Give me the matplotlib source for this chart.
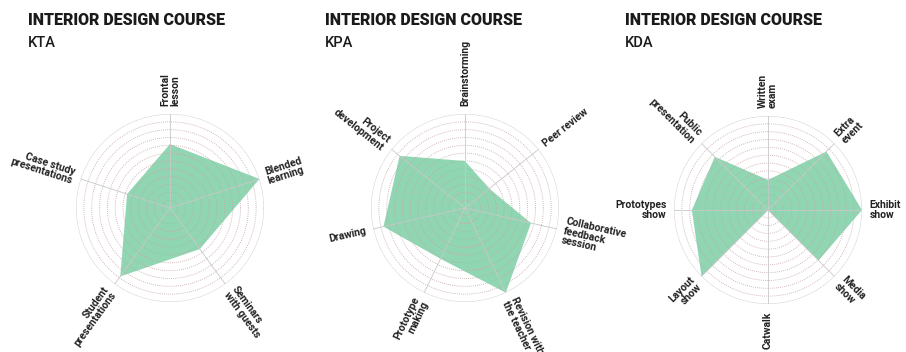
import numpy as np
import matplotlib
matplotlib.use('Agg')
import matplotlib.pyplot as plt

title_text = 'INTERIOR DESIGN COURSE'

# KTA
kta_labels = ['Frontal\nlesson', 'Blended\nlearning', 'Seminars\nwith guests',
              'Student\npresentations', 'Case study\npresentations']
kta_values = [0.68, 1.0, 0.54, 0.9, 0.48]

# KPA
kpa_labels = ['Brainstorming', 'Peer review', 'Collaborative\nfeedback\nsession',
              'Revision with\nthe teacher', 'Prototype\nmaking', 'Drawing',
              'Project\ndevelopment']
kpa_values = [0.5, 0.33, 0.72, 1.0, 0.6, 0.89, 0.89]

# KDA
kda_labels = ['Written\nexam', 'Extra\nevent', 'Exhibit\nshow', 'Media\nshow',
              'Catwalk', 'Layout\nshow', 'Prototypes\nshow', 'Public\npresentation']
kda_values = [0.32, 0.88, 1.0, 0.76, 0.0, 1.0, 0.81, 0.8]

panels = [('KTA', kta_labels, kta_values, 170, 208, 28),
          ('KPA', kpa_labels, kpa_values, 465, 208, 325),
          ('KDA', kda_labels, kda_values, 768, 210, 625)]

W, H = 906, 352
R = 94
fig = plt.figure(figsize=(W / 100, H / 100), dpi=100)
fig.patch.set_facecolor('white')

for name, labels, values, cx, cy, tx in panels:
    ax = fig.add_axes([(cx - R) / W, (H - cy - R) / H, 2 * R / W, 2 * R / H],
                      projection='polar')
    n = len(labels)
    ang = np.pi / 2 - np.arange(n) * 2 * np.pi / n
    ax.set_theta_zero_location('E')
    ax.set_ylim(0, 1)
    ax.axis('off')

    # dotted rings
    t = np.linspace(0, 2 * np.pi, 300)
    for r in np.arange(1, 12) / 12:
        ax.plot(t, np.full_like(t, r), color='#c4a4a4', lw=0.6, ls=(0, (1, 1.5)), zorder=3)
    ax.plot(t, np.ones_like(t), color='#d6d6d6', lw=0.8, zorder=3)
    # spokes
    for a in ang:
        ax.plot([a, a], [0, 1], color='#c8c8c8', lw=0.6, zorder=3)

    va = list(values) + [values[0]]
    aa = list(ang) + [ang[0]]
    ax.fill(aa, va, color='#6cc99a', alpha=0.75, lw=0, zorder=2)

    for a, lab in zip(ang, labels):
        deg = np.degrees(a) % 360
        if deg > 180:
            deg -= 360
        if -91 < deg <= 90:
            rot, ha = deg, 'left'
        else:
            rot, ha = deg - 180 if deg > 0 else deg + 180, 'right'
        if abs(deg + 90) < 1:
            rot, ha = 90, 'right'
        ax.text(a, 1.08, lab, rotation=rot, rotation_mode='anchor', ha=ha, va='center',
                multialignment=ha, fontsize=7.5, fontweight='bold', family='Roboto',
                color='#222222', linespacing=1.0)

    fig.text(tx / W, 1 - 20 / H, title_text, fontsize=11.5, fontweight='heavy',
             family='Roboto', color='#1a1a1a', va='center')
    fig.text(tx / W, 1 - 43 / H, name, fontsize=10.5, fontweight='medium',
             family='Roboto', color='#1a1a1a', va='center')

plt.savefig('out.png', dpi=100)
